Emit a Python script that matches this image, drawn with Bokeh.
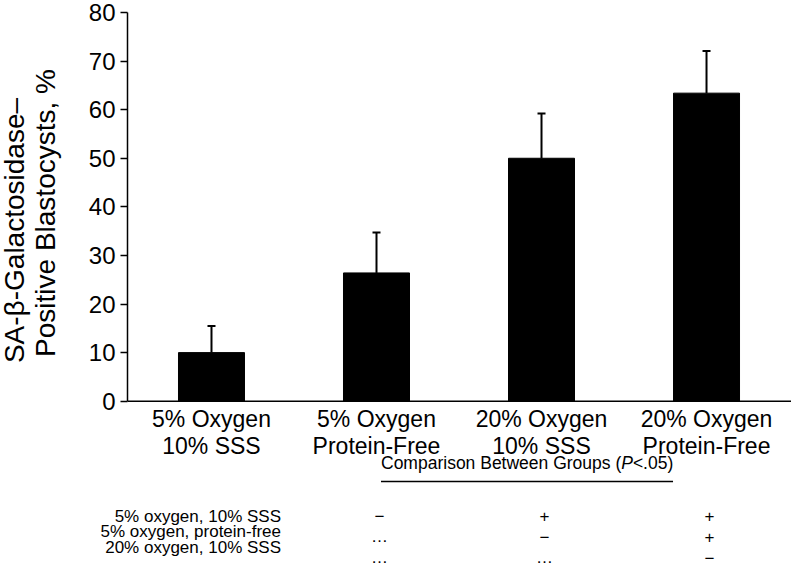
import math
from bokeh.plotting import figure
from bokeh.layouts import column, row
from bokeh.models import (Range1d, FixedTicker, Whisker, TeeHead, ColumnDataSource, Span)
from bokeh.core.properties import value
from bokeh.embed import file_html
from bokeh.resources import INLINE

# ---- data ----
categories = ["5% Oxygen\n10% SSS", "5% Oxygen\nProtein-Free",
              "20% Oxygen\n10% SSS", "20% Oxygen\nProtein-Free"]
means = [10.0, 26.4, 50.0, 63.4]
errors = [5.5, 8.3, 9.2, 8.7]
y_ticks = [0, 10, 20, 30, 40, 50, 60, 70, 80]
y_title = ["SA-\u03b2-Galactosidase\u2013", "Positive Blastocysts, %"]
table_title = ["Comparison Between Groups (", "P", "<.05)"]
row_labels = ["5% oxygen, 10% SSS", "5% oxygen, protein-free", "20% oxygen, 10% SSS"]
comparison = [["\u2212", "+", "+"],
              ["\u2026", "\u2212", "+"],
              ["\u2026", "\u2026", "\u2212"]]

FONT = value("Liberation Sans")

# ---- layout constants (pixels) ----
W = 791
TW = 70                             # width of the y-title strip
H1, H2 = 495, 74
LEFT, TOP = 127, 12
ZERO_PX = 400.7                     # page y of value 0
px_per_y = (ZERO_PX - TOP) / 80
Y_MIN = -(H1 - ZERO_PX) / px_per_y
X_MIN, X_MAX = -0.009, 4.015
px_per_x = (W - LEFT) / (X_MAX - X_MIN)

xs = [i + 0.5 for i in range(len(categories))]
src = ColumnDataSource(dict(x=xs, mean=means,
                            upper=[m + e for m, e in zip(means, errors)]))


def bare(fig):
    fig.frame_align = False
    fig.axis.visible = False
    fig.grid.visible = False
    fig.outline_line_color = None
    return fig


# ---------------- y-axis title strip ----------------
t = bare(figure(width=TW, height=H1, x_range=Range1d(0, TW), y_range=Range1d(-H1, 0),
                output_backend="svg", toolbar_location=None,
                min_border_left=0, min_border_right=0, min_border_top=0, min_border_bottom=0))
t.text(x=0, y=0, text=y_title, x_offset=[14, 44.5], y_offset=[230, 212.5],
       angle=math.pi / 2, text_font=FONT, text_font_size="28px", text_color="black",
       text_align="center", text_baseline="middle")

# ---------------- chart ----------------
p = figure(width=W - TW, height=H1,
           x_range=Range1d(X_MIN, X_MAX), y_range=Range1d(Y_MIN, 80),
           output_backend="svg", toolbar_location=None,
           min_border_left=LEFT - TW, min_border_right=0,
           min_border_top=TOP, min_border_bottom=0)
p.frame_align = False
p.outline_line_color = None
p.xgrid.visible = False
p.ygrid.visible = False
p.xaxis.visible = False

p.vbar(x="x", top="mean", bottom=0, width=0.4, source=src,
       fill_color="black", line_color="black")

p.add_layout(Whisker(source=src, base="x", lower="mean", upper="upper",
                     dimension="height", line_width=2, line_color="black",
                     upper_head=TeeHead(size=8, line_width=2, line_color="black"),
                     lower_head=None))

p.add_layout(Span(location=0, dimension="width", line_color="black", line_width=1.5))

ya = p.yaxis[0]
ya.bounds = (0, 80)
ya.ticker = FixedTicker(ticks=y_ticks)
ya.major_tick_out = 7
ya.major_tick_in = 0
ya.minor_tick_line_color = None
ya.axis_line_width = 1.5
ya.major_tick_line_width = 1.5
ya.axis_line_color = "black"
ya.major_tick_line_color = "black"
ya.major_label_text_font = "Liberation Sans"
ya.major_label_text_font_size = "24px"
ya.major_label_text_color = "black"
ya.major_label_standoff = 5

# category labels under the bars (offsets in pixels below the value 0)
p.text(x=xs, y=0, text=categories, y_offset=5,
       text_font=FONT, text_font_size="23px", text_color="black",
       text_align="center", text_baseline="top", text_line_height=1.05)

# comparison table heading and rule
title_offs = [4.5, 4.5 + 240.2, 4.5 + 240.2 + 11.7]
p.text(x=[xs[1]] * 3, y=0, text=table_title, x_offset=title_offs, y_offset=61.3,
       text_font=FONT, text_font_size="17.5px", text_color="black",
       text_font_style=["normal", "italic", "normal"],
       text_align="left", text_baseline="middle")

ul_y = -(481 - ZERO_PX) / px_per_y
p.segment(x0=xs[1] + 4.5 / px_per_x, x1=xs[3] - 33.5 / px_per_x, y0=ul_y, y1=ul_y,
          line_color="black", line_width=1.3)

# ---------------- comparison table rows ----------------
q = bare(figure(width=W, height=H2,
                x_range=Range1d(X_MIN - LEFT / px_per_x, X_MAX), y_range=Range1d(-H2, 0),
                output_backend="svg", toolbar_location=None,
                min_border_left=0, min_border_right=0, min_border_top=0, min_border_bottom=0))

# offsets are pixels from the top of this panel
q.text(x=[xs[0]] * len(row_labels), y=0, text=row_labels, x_offset=69.5,
       y_offset=[20.5 + 15.5 * i for i in range(len(row_labels))],
       text_font=FONT, text_font_size="17px", text_color="black",
       text_align="right", text_baseline="middle")

sx, so, st = [], [], []
for i, r in enumerate(comparison):
    for j, s in enumerate(r):
        sx.append(xs[j + 1])
        so.append(20 + 21 * i)
        st.append(s)
q.text(x=sx, y=0, text=st, x_offset=3, y_offset=so,
       text_font=FONT, text_font_size="17px", text_color="black",
       text_align="center", text_baseline="middle")

layout = column(row(t, p, spacing=0), q, spacing=0)
open("out.html", "w").write(file_html(layout, INLINE))
